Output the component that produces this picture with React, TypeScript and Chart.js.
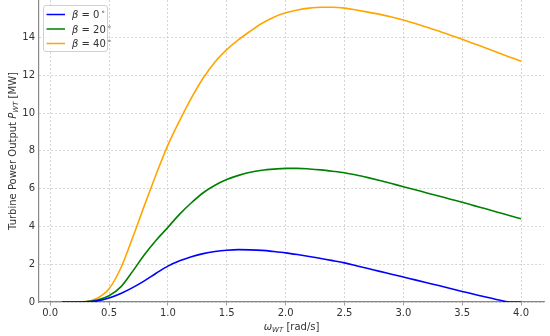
import { useEffect, useRef } from 'react';
import { Chart, registerables } from 'chart.js';

Chart.register(...registerables);

const omega = [
  0.1, 0.2, 0.3, 0.4, 0.5, 0.6, 0.7, 0.8, 0.9, 1.0,
  1.1, 1.2, 1.3, 1.4, 1.5, 1.6, 1.7, 1.8, 1.9, 2.0,
  2.1, 2.2, 2.3, 2.4, 2.5, 2.6, 2.7, 2.8, 2.9, 3.0,
  3.1, 3.2, 3.3, 3.4, 3.5, 3.6, 3.7, 3.8, 3.9, 4.0,
];

const powerBeta0 = [
  0, 0, 0.005, 0.06, 0.21, 0.45, 0.76, 1.12, 1.52, 1.9,
  2.18, 2.4, 2.56, 2.67, 2.74, 2.77, 2.76, 2.73, 2.67, 2.6,
  2.51, 2.41, 2.3, 2.19, 2.07, 1.92, 1.77, 1.62, 1.47, 1.32,
  1.17, 1.02, 0.87, 0.71, 0.56, 0.41, 0.26, 0.12, 0, 0,
];

const powerBeta20 = [
  0, 0, 0.01, 0.1, 0.33, 0.8, 1.62, 2.5, 3.27, 3.95,
  4.65, 5.25, 5.78, 6.18, 6.48, 6.7, 6.87, 6.97, 7.03, 7.07,
  7.07, 7.04, 6.99, 6.92, 6.84, 6.72, 6.58, 6.43, 6.27, 6.1,
  5.94, 5.77, 5.61, 5.44, 5.28, 5.1, 4.93, 4.75, 4.58, 4.4,
];

const powerBeta40 = [
  0, 0, 0.02, 0.2, 0.7, 1.8, 3.4, 5.1, 6.75, 8.3,
  9.6, 10.8, 11.85, 12.7, 13.35, 13.88, 14.33, 14.75, 15.07, 15.3,
  15.45, 15.55, 15.6, 15.6, 15.55, 15.45, 15.34, 15.22, 15.08, 14.92,
  14.74, 14.54, 14.34, 14.12, 13.9, 13.67, 13.44, 13.2, 12.97, 12.74,
];

const betaLabels = ['0', '20', '40'];
const seriesColors = ['#0000ff', '#008000', '#ffa500'];
const seriesValues = [powerBeta0, powerBeta20, powerBeta40];

const FONT = '"DejaVu Sans", sans-serif';
const TEXT_COLOR = '#333333';

function drawParts(
  ctx: CanvasRenderingContext2D,
  parts: { t: string; style: string; size: number; dy: number }[],
  cx: number,
  baseline: number,
) {
  let total = 0;
  for (const p of parts) {
    ctx.font = `${p.style} ${p.size}px ${FONT}`;
    total += ctx.measureText(p.t).width;
  }
  let x = cx - total / 2;
  ctx.textAlign = 'left';
  ctx.textBaseline = 'alphabetic';
  for (const p of parts) {
    ctx.font = `${p.style} ${p.size}px ${FONT}`;
    ctx.fillText(p.t, x, baseline + p.dy);
    x += ctx.measureText(p.t).width;
  }
}

const annotationsPlugin = {
  id: 'customText',
  afterDraw(chart: any) {
    const ctx: CanvasRenderingContext2D = chart.ctx;
    const area = chart.chartArea;
    ctx.save();
    ctx.fillStyle = TEXT_COLOR;

    // x axis title
    drawParts(
      ctx,
      [
        { t: 'ω', style: 'italic', size: 10, dy: 0 },
        { t: 'WT', style: 'italic', size: 7, dy: 2 },
        { t: ' [rad/s]', style: 'normal', size: 10, dy: 0 },
      ],
      (area.left + area.right) / 2,
      330,
    );

    // y axis title
    ctx.save();
    ctx.translate(16, (area.top + area.bottom) / 2);
    ctx.rotate(-Math.PI / 2);
    drawParts(
      ctx,
      [
        { t: 'Turbine Power Output ', style: 'normal', size: 10, dy: 0 },
        { t: 'P', style: 'italic', size: 10, dy: 0 },
        { t: 'WT', style: 'italic', size: 7, dy: 2 },
        { t: ' [MW]', style: 'normal', size: 10, dy: 0 },
      ],
      0,
      0,
    );
    ctx.restore();

    // legend
    const bx = 43.5, by = 5.5, bw = 64, bh = 46;
    ctx.beginPath();
    (ctx as any).roundRect(bx, by, bw, bh, 2.5);
    ctx.fillStyle = 'rgba(255,255,255,0.85)';
    ctx.fill();
    ctx.strokeStyle = '#d0d0d0';
    ctx.lineWidth = 1;
    ctx.stroke();

    for (let i = 0; i < betaLabels.length; i++) {
      const ry = 14.5 + i * 14.5;
      ctx.beginPath();
      ctx.moveTo(46.5, ry);
      ctx.lineTo(65, ry);
      ctx.strokeStyle = seriesColors[i];
      ctx.lineWidth = 1.5;
      ctx.stroke();

      ctx.fillStyle = TEXT_COLOR;
      ctx.textAlign = 'left';
      ctx.textBaseline = 'alphabetic';
      let tx = 72;
      const base = ry + 3.5;
      ctx.font = `italic 10px ${FONT}`;
      ctx.fillText('β', tx, base);
      tx += ctx.measureText('β').width;
      ctx.font = `normal 10px ${FONT}`;
      const rest = ' = ' + betaLabels[i];
      ctx.fillText(rest, tx, base);
      tx += ctx.measureText(rest).width + 1.5;
      ctx.font = `normal 7px ${FONT}`;
      ctx.fillText('∘', tx, base - 4);
    }
    ctx.restore();
  },
};

export default function App() {
  const canvasRef = useRef<HTMLCanvasElement | null>(null);

  useEffect(() => {
    document.body.style.margin = '0';
    const canvas = canvasRef.current;
    if (!canvas) return;

    const datasets = seriesValues.map((vals, i) => ({
      label: `β = ${betaLabels[i]}°`,
      data: omega.map((x, j) => ({ x, y: vals[j] })),
      borderColor: seriesColors[i],
      backgroundColor: seriesColors[i],
      borderWidth: 1.6,
      pointRadius: 0,
      fill: false,
      cubicInterpolationMode: 'monotone' as const,
    }));

    const gridStyle = {
      color: 'rgba(185,185,185,0.75)',
      lineWidth: 0.8,
    };

    const chart = new Chart(canvas, {
      type: 'line',
      data: { datasets },
      plugins: [annotationsPlugin],
      options: {
        animation: false,
        responsive: false,
        maintainAspectRatio: false,
        layout: { padding: { left: 0, right: 6, top: 0, bottom: 0 } },
        plugins: {
          legend: { display: false },
          tooltip: { enabled: false },
        },
        scales: {
          x: {
            type: 'linear',
            min: -0.095,
            max: 4.195,
            afterFit(scale: any) {
              scale.height = 34;
              scale.paddingLeft = 0;
              scale.paddingRight = 0;
            },
            ticks: {
              stepSize: 0.5,
              includeBounds: false,
              autoSkip: false,
              maxRotation: 0,
              padding: 2,
              color: TEXT_COLOR,
              font: { family: FONT, size: 10 },
              callback: (v: any) => Number(v).toFixed(1),
            },
            grid: {
              ...gridStyle,
              drawTicks: true,
              tickLength: 3.5,
              tickColor: '#888888',
              tickBorderDash: [],
            } as any,
            border: { display: true, color: '#888888', width: 1.2, dash: [2, 2] } as any,
          },
          y: {
            type: 'linear',
            min: 0,
            max: 15.98,
            afterFit(scale: any) {
              scale.width = 39;
              scale.paddingTop = 0;
              scale.paddingBottom = 0;
            },
            ticks: {
              stepSize: 2,
              includeBounds: false,
              padding: 4,
              color: TEXT_COLOR,
              font: { family: FONT, size: 10 },
              callback: (v: any) => String(v),
            },
            grid: {
              ...gridStyle,
              drawTicks: false,
            } as any,
            border: { display: true, color: '#888888', width: 1.2, dash: [2, 2] } as any,
          },
        },
      },
    });

    return () => {
      chart.destroy();
    };
  }, []);

  return (
    <div style={{ width: 550, height: 336 }}>
      <canvas ref={canvasRef} width={550} height={336} style={{ display: 'block' }} />
    </div>
  );
}
